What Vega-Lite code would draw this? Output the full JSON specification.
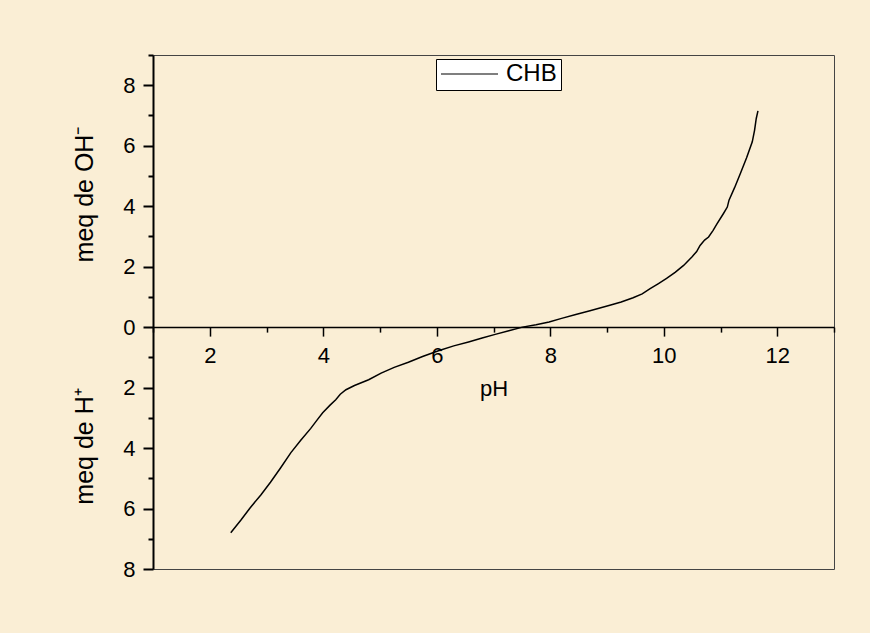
{
  "$schema": "https://vega.github.io/schema/vega-lite/v6.json",
  "width": 681,
  "height": 514,
  "autosize": {"type": "none"},
  "padding": {"left": 153, "top": 55, "right": 36, "bottom": 64},
  "background": "#FAEED5",
  "config": {
    "view": {"stroke": "#444", "strokeWidth": 1},
    "font": "Liberation Sans"
  },
  "data": {
    "values": [
      {"pH": 2.37, "meq": -6.80}, {"pH": 2.55, "meq": -6.38}, {"pH": 2.71, "meq": -5.98},
      {"pH": 2.90, "meq": -5.55}, {"pH": 3.07, "meq": -5.13}, {"pH": 3.25, "meq": -4.65},
      {"pH": 3.43, "meq": -4.15}, {"pH": 3.60, "meq": -3.75}, {"pH": 3.78, "meq": -3.35},
      {"pH": 3.90, "meq": -3.05}, {"pH": 3.99, "meq": -2.83}, {"pH": 4.12, "meq": -2.58},
      {"pH": 4.22, "meq": -2.40}, {"pH": 4.30, "meq": -2.22}, {"pH": 4.40, "meq": -2.07},
      {"pH": 4.55, "meq": -1.93}, {"pH": 4.80, "meq": -1.74}, {"pH": 5.02, "meq": -1.52},
      {"pH": 5.25, "meq": -1.33}, {"pH": 5.50, "meq": -1.16}, {"pH": 5.75, "meq": -0.97},
      {"pH": 6.03, "meq": -0.78}, {"pH": 6.30, "meq": -0.62}, {"pH": 6.56, "meq": -0.49},
      {"pH": 6.80, "meq": -0.36}, {"pH": 7.03, "meq": -0.24}, {"pH": 7.27, "meq": -0.12},
      {"pH": 7.51, "meq": 0.0}, {"pH": 7.75, "meq": 0.08}, {"pH": 7.98, "meq": 0.17},
      {"pH": 8.20, "meq": 0.29}, {"pH": 8.45, "meq": 0.42}, {"pH": 8.70, "meq": 0.54},
      {"pH": 9.05, "meq": 0.72}, {"pH": 9.25, "meq": 0.83}, {"pH": 9.46, "meq": 0.97},
      {"pH": 9.62, "meq": 1.10}, {"pH": 9.76, "meq": 1.27}, {"pH": 9.90, "meq": 1.43},
      {"pH": 10.05, "meq": 1.61}, {"pH": 10.20, "meq": 1.81}, {"pH": 10.35, "meq": 2.04},
      {"pH": 10.50, "meq": 2.33}, {"pH": 10.58, "meq": 2.50}, {"pH": 10.64, "meq": 2.70},
      {"pH": 10.72, "meq": 2.88}, {"pH": 10.79, "meq": 2.98}, {"pH": 10.87, "meq": 3.20},
      {"pH": 10.94, "meq": 3.42}, {"pH": 11.05, "meq": 3.75}, {"pH": 11.12, "meq": 3.97},
      {"pH": 11.15, "meq": 4.20}, {"pH": 11.25, "meq": 4.62}, {"pH": 11.35, "meq": 5.08},
      {"pH": 11.46, "meq": 5.60}, {"pH": 11.56, "meq": 6.13}, {"pH": 11.60, "meq": 6.51},
      {"pH": 11.63, "meq": 6.90}, {"pH": 11.66, "meq": 7.15}
    ]
  },
  "resolve": {"axis": {"y": "independent"}},
  "layer": [
    {
      "mark": {"type": "line", "strokeWidth": 1.5, "clip": true},
      "encoding": {
        "x": {
          "field": "pH", "type": "quantitative",
          "scale": {"domain": [1, 13], "nice": false, "zero": false},
          "axis": {
            "orient": "bottom",
            "offset": -241.9,
            "values": [1, 2, 3, 4, 5, 6, 7, 8, 9, 10, 11, 12, 13],
            "labelExpr": "datum.value % 2 === 0 ? datum.value + '' : ''",
            "grid": false,
            "domainColor": "black", "domainWidth": 1.5,
            "tickColor": "black", "tickWidth": 1.5,
            "tickSize": {"condition": {"test": "datum.value % 2 === 0", "value": 9}, "value": 5},
            "labelFont": "Liberation Sans", "labelFontSize": 22, "labelColor": "black",
            "labelPadding": 9, "labelFlush": false, "labelOverlap": false,
            "title": "pH", "titleFont": "Liberation Sans", "titleFontSize": 22,
            "titleFontWeight": "normal", "titleColor": "black",
            "titleBaseline": "alphabetic", "titleY": 68
          }
        },
        "y": {
          "field": "meq", "type": "quantitative",
          "scale": {"domain": [-8, 9], "nice": false, "zero": false},
          "axis": {
            "orient": "left",
            "values": [-8, -7, -6, -5, -4, -3, -2, -1, 0, 1, 2, 3, 4, 5, 6, 7, 8, 9],
            "labelExpr": "datum.value % 2 === 0 ? abs(datum.value) + '' : ''",
            "grid": false,
            "domainColor": "black", "domainWidth": 2,
            "tickColor": "black", "tickWidth": 2,
            "tickSize": {"condition": {"test": "datum.value % 2 === 0", "value": 10}, "value": 5},
            "labelFont": "Liberation Sans", "labelFontSize": 22, "labelColor": "black",
            "labelPadding": 8, "labelFlush": false, "labelOverlap": false,
            "title": "meq de OH⁻", "titleFont": "Liberation Sans", "titleFontSize": 25,
            "titleFontWeight": "normal", "titleColor": "black",
            "titleAngle": -90, "titleAlign": "center", "titleBaseline": "alphabetic",
            "titleX": -61, "titleY": 139
          }
        },
        "color": {
          "datum": "CHB",
          "type": "nominal",
          "scale": {"range": ["black"]},
          "legend": {
            "title": null,
            "orient": "none",
            "legendX": 283,
            "legendY": 4,
            "symbolType": "stroke",
            "symbolSize": 3249,
            "symbolStrokeWidth": 1.2,
            "clipHeight": 22,
            "labelFont": "Liberation Sans",
            "labelFontSize": 24,
            "labelColor": "black",
            "labelOffset": 7,
            "padding": 4,
            "fillColor": "white",
            "strokeColor": "black"
          }
        }
      }
    },
    {
      "mark": {"type": "line", "strokeOpacity": 0},
      "encoding": {
        "x": {"field": "pH", "type": "quantitative"},
        "y": {
          "field": "meq", "type": "quantitative",
          "axis": {
            "orient": "left",
            "domain": false, "ticks": false, "labels": false, "grid": false,
            "title": "meq de H⁺", "titleFont": "Liberation Sans", "titleFontSize": 25,
            "titleFontWeight": "normal", "titleColor": "black",
            "titleAngle": -90, "titleAlign": "center", "titleBaseline": "alphabetic",
            "titleX": -61, "titleY": 391
          }
        }
      }
    }
  ]
}
